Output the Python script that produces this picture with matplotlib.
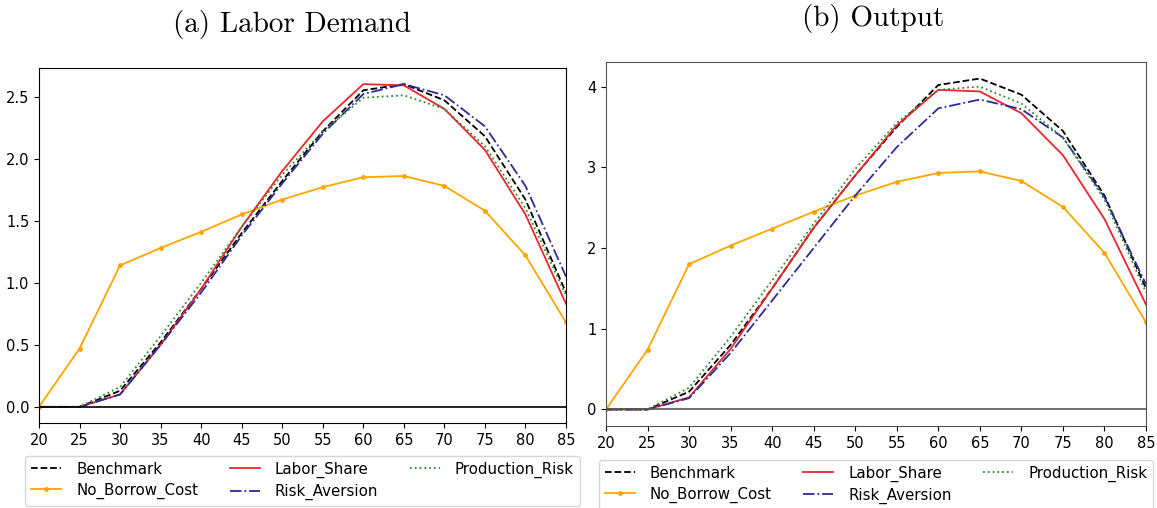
import numpy as np
import matplotlib.pyplot as plt

ages = [20, 25, 30, 35, 40, 45, 50, 55, 60, 65, 70, 75, 80, 85]
labels = ['Benchmark', 'No_Borrow_Cost', 'Labor_Share', 'Risk_Aversion', 'Production_Risk']

# labor demand by age
labor_bench = [0, 0, 0.13, 0.52, 0.95, 1.40, 1.82, 2.22, 2.55, 2.60, 2.47, 2.18, 1.67, 0.92]
labor_noborrow = [0, 0.47, 1.14, 1.28, 1.41, 1.55, 1.67, 1.77, 1.85, 1.86, 1.78, 1.58, 1.22, 0.68]
labor_share = [0, 0, 0.10, 0.50, 0.95, 1.45, 1.90, 2.30, 2.60, 2.59, 2.40, 2.07, 1.55, 0.83]
labor_riskav = [0, 0, 0.10, 0.50, 0.92, 1.38, 1.80, 2.20, 2.52, 2.60, 2.51, 2.26, 1.78, 1.05]
labor_prodrisk = [0, 0, 0.16, 0.57, 1.00, 1.45, 1.87, 2.22, 2.49, 2.51, 2.40, 2.10, 1.60, 0.90]

# output by age
out_bench = [0, 0, 0.22, 0.80, 1.50, 2.25, 2.90, 3.50, 4.02, 4.10, 3.90, 3.45, 2.65, 1.50]
out_noborrow = [0, 0.74, 1.80, 2.03, 2.24, 2.45, 2.65, 2.82, 2.93, 2.95, 2.83, 2.51, 1.94, 1.08]
out_share = [0, 0, 0.15, 0.75, 1.50, 2.25, 2.90, 3.52, 3.96, 3.94, 3.67, 3.15, 2.36, 1.30]
out_riskav = [0, 0, 0.14, 0.70, 1.35, 2.00, 2.65, 3.25, 3.73, 3.84, 3.72, 3.37, 2.63, 1.55]
out_prodrisk = [0, 0, 0.27, 0.90, 1.60, 2.30, 2.98, 3.55, 3.96, 4.00, 3.79, 3.37, 2.60, 1.45]

styles = [
    dict(color='black', ls='--'),
    dict(color='orange', ls='-', marker='.', markersize=5),
    dict(color='#e8262b', ls='-'),
    dict(color='#2b2b9a', ls='-.'),
    dict(color='#2e8b2e', ls=':'),
]

fig = plt.figure(figsize=(11.57, 5.08), dpi=100)
ax1 = fig.add_axes([39/1157, 85/508, 527/1157, 355/508])
ax2 = fig.add_axes([606/1157, 82/508, 540/1157, 364/508])

def draw(ax, series, zero_color):
    for y, lab, st in zip(series, labels, styles):
        ax.plot(ages, y, lw=1.3, label=lab, **st)
    ax.axhline(0, color=zero_color, lw=1.2)
    ax.set_xlim(20, 85)
    ax.set_xticks(ages)
    ax.tick_params(labelsize=10.5)
    ax.legend(loc='upper center', bbox_to_anchor=(0.5, -0.088), borderaxespad=0.1,
              ncol=3, fontsize=10.8, columnspacing=2.1, handlelength=2.0,
              handletextpad=1.0, labelspacing=0.4)

draw(ax1, [labor_bench, labor_noborrow, labor_share, labor_riskav, labor_prodrisk], 'black')
draw(ax2, [out_bench, out_noborrow, out_share, out_riskav, out_prodrisk], '#555555')
for sp in ax2.spines.values():
    sp.set_color('#555555')

fig.text(292/1157, 1 - 32/508, '(a) Labor Demand', family='cmr10', fontsize=21,
         ha='center', va='baseline')
fig.text(873/1157, 1 - 26/508, '(b) Output', family='cmr10', fontsize=21,
         ha='center', va='baseline')

fig.savefig('out.png', dpi=100)
